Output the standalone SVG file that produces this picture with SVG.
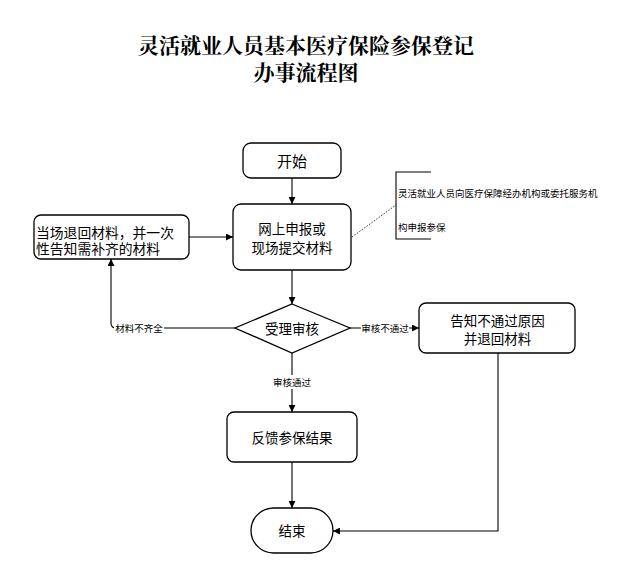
<svg xmlns="http://www.w3.org/2000/svg" width="629" height="586" viewBox="0 0 629 586">
<style>
.box{fill:#fff;stroke:#000;stroke-width:1.3}
.t{font-family:"Noto Sans CJK SC","Liberation Sans",sans-serif;font-size:13.5px;fill:#000;dominant-baseline:central}
.c{text-anchor:middle}
.lbl{font-family:"Noto Sans CJK SC","Liberation Sans",sans-serif;font-size:9.5px;fill:#000;dominant-baseline:central;text-anchor:middle}
.ln{fill:none;stroke:#000;stroke-width:1.1}
.title{font-family:"Noto Serif CJK SC","Noto Sans CJK SC",serif;font-weight:bold;font-size:21px;fill:#000;text-anchor:middle;dominant-baseline:central}
</style>
<defs>
<marker id="arr" viewBox="0 0 10 10" refX="10" refY="5" markerWidth="7" markerHeight="7" markerUnits="userSpaceOnUse" orient="auto">
<path d="M0,0 L10,5 L0,10 z" fill="#000"/>
</marker>
</defs>
<rect width="629" height="586" fill="#fff"/>
<g id="title">
<text class="title" x="306" y="44">灵活就业人员基本医疗保险参保登记</text>
<text class="title" x="306" y="71">办事流程图</text>
</g>
<g id="connectors">
<line class="ln" x1="292" y1="178" x2="292" y2="204" marker-end="url(#arr)"/>
<line class="ln" x1="189" y1="237" x2="233" y2="237" marker-end="url(#arr)"/>
<line class="ln" x1="292" y1="270" x2="292" y2="304" marker-end="url(#arr)"/>
<path class="ln" d="M235,328 H116 Q111,328 111,323 V259" marker-end="url(#arr)"/>
<line class="ln" x1="350" y1="328" x2="419" y2="328" marker-end="url(#arr)"/>
<line class="ln" x1="292" y1="353" x2="292" y2="412" marker-end="url(#arr)"/>
<line class="ln" x1="292" y1="462" x2="292" y2="508" marker-end="url(#arr)"/>
<path class="ln" d="M498,353 V531 H333" marker-end="url(#arr)"/>
<line x1="352" y1="237" x2="396" y2="205" stroke="#000" stroke-width="0.8" stroke-dasharray="1.5,1.5"/>
<rect x="114" y="321" width="50" height="14" fill="#fff"/>
<text class="lbl" x="139" y="328">材料不齐全</text>
<rect x="361" y="321" width="48" height="14" fill="#fff"/>
<text class="lbl" x="385" y="328">审核不通过</text>
<rect x="270" y="375" width="44" height="14" fill="#fff"/>
<text class="lbl" x="292" y="382">审核通过</text>
</g>
<g id="start">
<rect class="box" x="243" y="143" width="98" height="35" rx="8"/>
<text class="t c" x="292" y="160.5" style="font-size:15px">开始</text>
</g>
<g id="submit">
<rect class="box" x="233" y="204" width="118" height="66" rx="8"/>
<text class="t c" x="292" y="228">网上申报或</text>
<text class="t c" x="292" y="247">现场提交材料</text>
</g>
<g id="return">
<rect class="box" x="34" y="215" width="155" height="44" rx="7"/>
<text class="t" x="36" y="231.5" style="font-size:13.8px">当场退回材料，并一次</text>
<text class="t" x="36" y="247.5" style="font-size:13.8px">性告知需补齐的材料</text>
</g>
<g id="review">
<polygon class="box" points="292,304 350,328 292,353 235,328"/>
<text class="t c" x="292" y="328">受理审核</text>
</g>
<g id="reject">
<rect class="box" x="419" y="303" width="156" height="50" rx="7"/>
<text class="t c" x="497.5" y="319.5">告知不通过原因</text>
<text class="t c" x="497.5" y="337.5">并退回材料</text>
</g>
<g id="feedback">
<rect class="box" x="227" y="412" width="130" height="50" rx="7"/>
<text class="t c" x="292" y="437">反馈参保结果</text>
</g>
<g id="end">
<rect class="box" x="251" y="508" width="82" height="45" rx="22.5"/>
<text class="t c" x="292" y="530">结束</text>
</g>
<g id="note">
<path class="ln" d="M431,172 H396 V239 H431" stroke-width="1"/>
<text class="t" x="398" y="193" style="font-size:9.5px">灵活就业人员向医疗保障经办机构或委托服务机</text>
<text class="t" x="398" y="227" style="font-size:9.5px">构申报参保</text>
</g>
</svg>
